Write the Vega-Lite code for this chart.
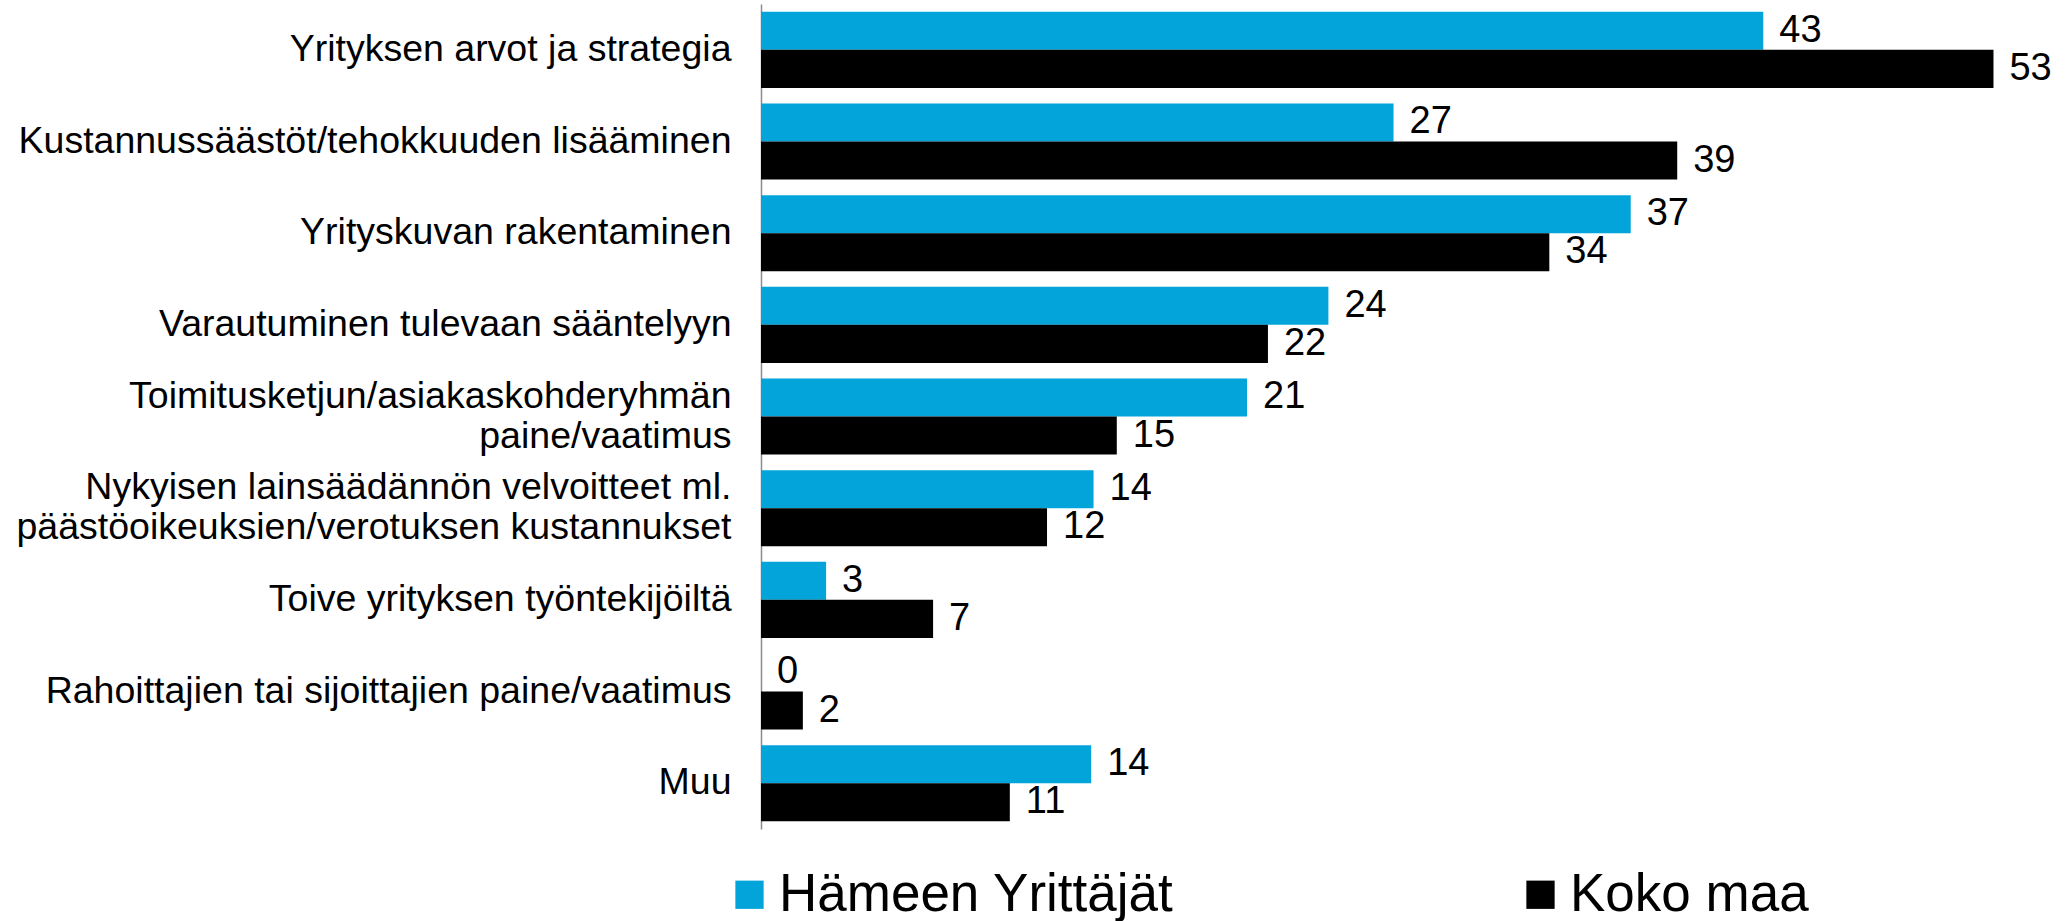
{
  "$schema": "https://vega.github.io/schema/vega-lite/v6.json",
  "autosize": "none",
  "padding": {"left": 761, "top": 4, "right": 25, "bottom": 92},
  "width": 1279,
  "height": 825,
  "background": "white",
  "config": {
    "view": {"stroke": null},
    "font": "Liberation Sans"
  },
  "data": {
    "values": [
      {"cat": "Yrityksen arvot ja strategia", "series": "Hämeen Yrittäjät", "value": 43.1, "label": "43"},
      {"cat": "Yrityksen arvot ja strategia", "series": "Koko maa", "value": 53, "label": "53"},
      {"cat": "Kustannussäästöt/tehokkuuden lisääminen", "series": "Hämeen Yrittäjät", "value": 27.2, "label": "27"},
      {"cat": "Kustannussäästöt/tehokkuuden lisääminen", "series": "Koko maa", "value": 39.4, "label": "39"},
      {"cat": "Yrityskuvan rakentaminen", "series": "Hämeen Yrittäjät", "value": 37.4, "label": "37"},
      {"cat": "Yrityskuvan rakentaminen", "series": "Koko maa", "value": 33.9, "label": "34"},
      {"cat": "Varautuminen tulevaan sääntelyyn", "series": "Hämeen Yrittäjät", "value": 24.4, "label": "24"},
      {"cat": "Varautuminen tulevaan sääntelyyn", "series": "Koko maa", "value": 21.8, "label": "22"},
      {"cat": "Toimitusketjun/asiakaskohderyhmän|paine/vaatimus", "series": "Hämeen Yrittäjät", "value": 20.9, "label": "21"},
      {"cat": "Toimitusketjun/asiakaskohderyhmän|paine/vaatimus", "series": "Koko maa", "value": 15.3, "label": "15"},
      {"cat": "Nykyisen lainsäädännön velvoitteet ml.|päästöoikeuksien/verotuksen kustannukset", "series": "Hämeen Yrittäjät", "value": 14.3, "label": "14"},
      {"cat": "Nykyisen lainsäädännön velvoitteet ml.|päästöoikeuksien/verotuksen kustannukset", "series": "Koko maa", "value": 12.3, "label": "12"},
      {"cat": "Toive yrityksen työntekijöiltä", "series": "Hämeen Yrittäjät", "value": 2.8, "label": "3"},
      {"cat": "Toive yrityksen työntekijöiltä", "series": "Koko maa", "value": 7.4, "label": "7"},
      {"cat": "Rahoittajien tai sijoittajien paine/vaatimus", "series": "Hämeen Yrittäjät", "value": 0, "label": "0"},
      {"cat": "Rahoittajien tai sijoittajien paine/vaatimus", "series": "Koko maa", "value": 1.8, "label": "2"},
      {"cat": "Muu", "series": "Hämeen Yrittäjät", "value": 14.2, "label": "14"},
      {"cat": "Muu", "series": "Koko maa", "value": 10.7, "label": "11"}
    ]
  },
  "encoding": {
    "y": {
      "field": "cat",
      "type": "nominal",
      "sort": null,
      "scale": {"paddingInner": 0.17, "paddingOuter": 0.085},
      "axis": {
        "title": null,
        "ticks": false,
        "grid": false,
        "domainColor": "#8c8c8c",
        "domainWidth": 1.5,
        "labelFont": "Liberation Sans",
        "labelFontSize": 37.5,
        "labelColor": "#000000",
        "labelPadding": 30,
        "labelLimit": 1000,
        "labelLineHeight": 40,
        "labelOffset": {"condition": {"test": "indexof(datum.value, '|') >= 0", "value": -20}, "value": 0},
        "labelExpr": "split(datum.label, '|')"
      }
    },
    "yOffset": {"field": "series", "type": "nominal", "sort": ["Hämeen Yrittäjät", "Koko maa"]},
    "x": {
      "field": "value",
      "type": "quantitative",
      "scale": {"domain": [0, 55], "nice": false},
      "axis": null
    }
  },
  "layer": [
    {
      "mark": {"type": "bar"},
      "encoding": {
        "color": {
          "field": "series",
          "type": "nominal",
          "sort": ["Hämeen Yrittäjät", "Koko maa"],
          "scale": {"domain": ["Hämeen Yrittäjät", "Koko maa"], "range": ["#03A4DA", "#000000"]},
          "legend": {
            "title": null,
            "orient": "none",
            "legendX": -38,
            "legendY": 864,
            "direction": "horizontal",
            "columns": 2,
            "columnPadding": 340,
            "symbolType": "square",
            "symbolSize": 800,
            "symbolStrokeWidth": 0,
            "symbolOpacity": 1,
            "labelFont": "Liberation Sans",
            "labelFontSize": 53,
            "labelColor": "#000000",
            "labelOffset": 3,
            "labelLimit": 1000
          }
        }
      }
    },
    {
      "mark": {"type": "text", "align": "left", "baseline": "middle", "dx": 16, "font": "Liberation Sans", "fontSize": 38, "color": "#000000"},
      "encoding": {
        "text": {"field": "label", "type": "nominal"}
      }
    }
  ]
}
